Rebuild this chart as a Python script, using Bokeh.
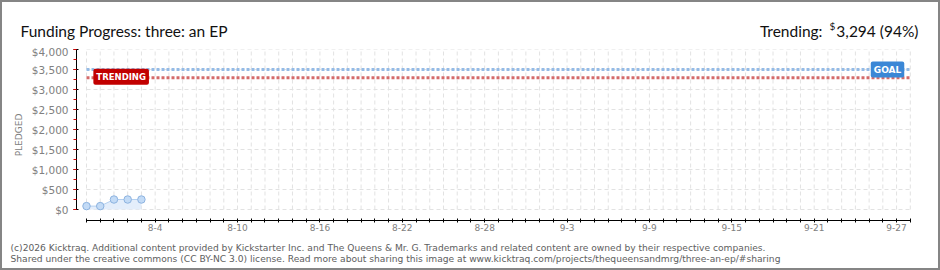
from datetime import datetime
from bokeh.plotting import figure
from bokeh.layouts import column
from bokeh.models import (FixedTicker, SingleIntervalTicker, NumeralTickFormatter,
                          Label, ColumnDataSource, Range1d)
from bokeh.core.properties import value
from bokeh.embed import file_html
from bokeh.resources import INLINE

# ---------------- data ----------------
YEAR = 2013
dates = ["7-30", "7-31", "8-1", "8-2", "8-3"]
pledged = [85, 85, 250, 250, 250]
goal = 3500
trending = 3294
axis_start = "7-30"
axis_end = "9-28"
label_dates = ["8-4", "8-10", "8-16", "8-22", "8-28", "9-3", "9-9", "9-15", "9-21", "9-27"]
y_max = 4000
y_step = 500

title_text = "Funding Progress: three: an EP"
trend_prefix = "Trending:"
trend_value = "3,294 (94%)"
footer1 = ("(c)2026 Kicktraq. Additional content provided by Kickstarter Inc. and The Queens & Mr. G. "
           "Trademarks and related content are owned by their respective companies.")
footer2 = ("Shared under the creative commons (CC BY-NC 3.0) license. Read more about sharing this image at "
           "www.kicktraq.com/projects/thequeensandmrg/three-an-ep/#sharing")


def parse(s):
    m, d = s.split("-")
    return datetime(YEAR, int(m), int(d))


t0 = parse(axis_start)


def day(s):
    return (parse(s) - t0).days


xs = [day(s) for s in dates]
x_last = day(axis_end)
day_ticks = list(range(0, x_last + 1))

# ---------------- geometry (canvas coords incl. 2px page border) ----------------
B = 2
W, H = 940, 270
IW = W - 2 * B
HEAD_H = 43
FOOT_H = 30
MAIN_H = H - 2 * B - HEAD_H - FOOT_H
MAIN_TOP = B + HEAD_H
FRAME_L, FRAME_R, FRAME_T, FRAME_B = 76, 915, 49, 220
Y0_PX = 209
X0_PX = 86
PX_PER_DAY = 13.73
x0 = -(X0_PX - FRAME_L) / PX_PER_DAY
x1 = x0 + (FRAME_R - FRAME_L) / PX_PER_DAY
y_per_px = y_max / (Y0_PX - FRAME_T)
y0 = -(FRAME_B - Y0_PX) * y_per_px


def plain(fig):
    fig.axis.visible = False
    fig.grid.visible = False
    fig.outline_line_color = None
    if "frame_align" in fig.properties():
        fig.frame_align = False


# ---------------- header ----------------
head = figure(width=IW, height=HEAD_H, output_backend="svg", toolbar_location=None,
              x_range=Range1d(0, IW), y_range=Range1d(HEAD_H, 0), min_border=0)
plain(head)
fy = 30 - B
head.text(x=[20 - B], y=[fy], text=[title_text], text_font=value("Lato"), text_font_size="15.5px",
          text_color="#111111", text_baseline="alphabetic", text_align="left")
head.text(x=[918 - B], y=[fy], text=[trend_value], text_font=value("Lato"), text_font_size="15.5px",
          text_color="#111111", text_baseline="alphabetic", text_align="right")
head.text(x=[832 - B], y=[fy - 5], text=["$"], text_font=value("Lato"), text_font_size="10px",
          text_color="#111111", text_baseline="alphabetic", text_align="center")
head.text(x=[822 - B], y=[fy], text=[trend_prefix], text_font=value("Lato"), text_font_size="15.5px",
          text_color="#111111", text_baseline="alphabetic", text_align="right")

# ---------------- main chart ----------------
p = figure(width=IW, height=MAIN_H, output_backend="svg", toolbar_location=None,
           x_range=Range1d(x0, x1), y_range=Range1d(y0, y_max),
           min_border_left=FRAME_L - B, min_border_right=(W - B) - FRAME_R,
           min_border_top=FRAME_T - MAIN_TOP, min_border_bottom=(MAIN_TOP + MAIN_H) - FRAME_B)
p.outline_line_color = None
p.xgrid.visible = False
p.ygrid.visible = False
if "frame_align" in p.properties():
    p.frame_align = False

grid_color = "#e2e2e2"
p.segment(x0=day_ticks, y0=[0] * len(day_ticks), x1=day_ticks, y1=[y_max] * len(day_ticks),
          line_color=grid_color, line_width=1, line_dash="4 3")
hy = list(range(0, y_max + 1, y_step))
p.segment(x0=[0] * len(hy), y0=hy, x1=[x_last] * len(hy), y1=hy,
          line_color=grid_color, line_width=1, line_dash="4 3")

p.line(x=[0, x_last], y=[goal, goal], line_color="#94bbe6", line_width=3, line_dash="3 2")
p.line(x=[0, x_last], y=[trending, trending], line_color="#d46a6a", line_width=3, line_dash="3 2")

src = ColumnDataSource(dict(x=xs, y=pledged))
p.varea(x=xs, y1=[0] * len(xs), y2=pledged, fill_color="#e4eefb")
p.line("x", "y", source=src, line_color="#b4d0f0", line_width=1)
p.scatter("x", "y", source=src, size=7.5, fill_color="#c3dbf6", line_color="#8db3e0", line_width=1)

ya = p.yaxis[0]
ya.ticker = SingleIntervalTicker(interval=y_step, num_minor_ticks=2)
ya.bounds = (0, y_max)
ya.formatter = NumeralTickFormatter(format="$0,0")
ya.axis_line_color = "black"
ya.major_tick_line_color = "black"
ya.major_tick_in = 2
ya.major_tick_out = 3
ya.minor_tick_line_color = "#e00000"
ya.minor_tick_in = 0
ya.minor_tick_out = 3
ya.major_label_text_font = "DejaVu Sans"
ya.major_label_text_font_size = "10.5px"
ya.major_label_text_color = "#808080"
ya.major_label_standoff = 5
ya.axis_label = "PLEDGED"
ya.axis_label_text_font = "DejaVu Sans"
ya.axis_label_text_font_size = "9px"
ya.axis_label_text_font_style = "normal"
ya.axis_label_text_color = "#808080"
ya.axis_label_standoff = 5

xa = p.xaxis[0]
xa.ticker = FixedTicker(ticks=day_ticks, minor_ticks=[])
xa.bounds = (0, x_last)
xa.axis_line_color = "black"
xa.major_tick_line_color = "black"
xa.major_tick_in = 2
xa.major_tick_out = 2
xa.minor_tick_line_color = None
label_days = {day(s): s for s in label_dates}
xa.major_label_overrides = {d: label_days.get(d, "") for d in day_ticks}
xa.major_label_text_font = "DejaVu Sans"
xa.major_label_text_font_size = "9px"
xa.major_label_text_color = "#808080"
xa.major_label_standoff = 1

p.add_layout(Label(x=x_last - 0.44, y=goal, text="GOAL", text_align="right", text_baseline="middle",
                   text_color="white", text_font="DejaVu Sans", text_font_style="bold",
                   text_font_size="9px", background_fill_color="#3a87d6", padding=3, border_radius=2))
p.add_layout(Label(x=0.5, y=trending, y_offset=1, text="TRENDING", text_align="left",
                   text_baseline="middle", text_color="white", text_font="DejaVu Sans",
                   text_font_style="bold", text_font_size="8.5px", background_fill_color="#c20000",
                   padding=3, border_radius=2))

# ---------------- footer ----------------
foot_top = MAIN_TOP + MAIN_H
foot = figure(width=IW, height=FOOT_H, output_backend="svg", toolbar_location=None,
              x_range=Range1d(0, IW), y_range=Range1d(FOOT_H, 0), min_border=0)
plain(foot)
foot.text(x=[10 - B, 10 - B], y=[247 - foot_top, 258 - foot_top], text=[footer1, footer2],
          text_font=value("DejaVu Sans"), text_font_size="9.15px", text_color="#606060",
          text_baseline="alphabetic", text_align="left")

layout = column(head, p, foot, spacing=0,
                styles={"border": "2px solid #858585", "box-sizing": "border-box",
                        "width": f"{W}px", "height": f"{H}px"})

open("out.html", "w").write(file_html(layout, INLINE))
